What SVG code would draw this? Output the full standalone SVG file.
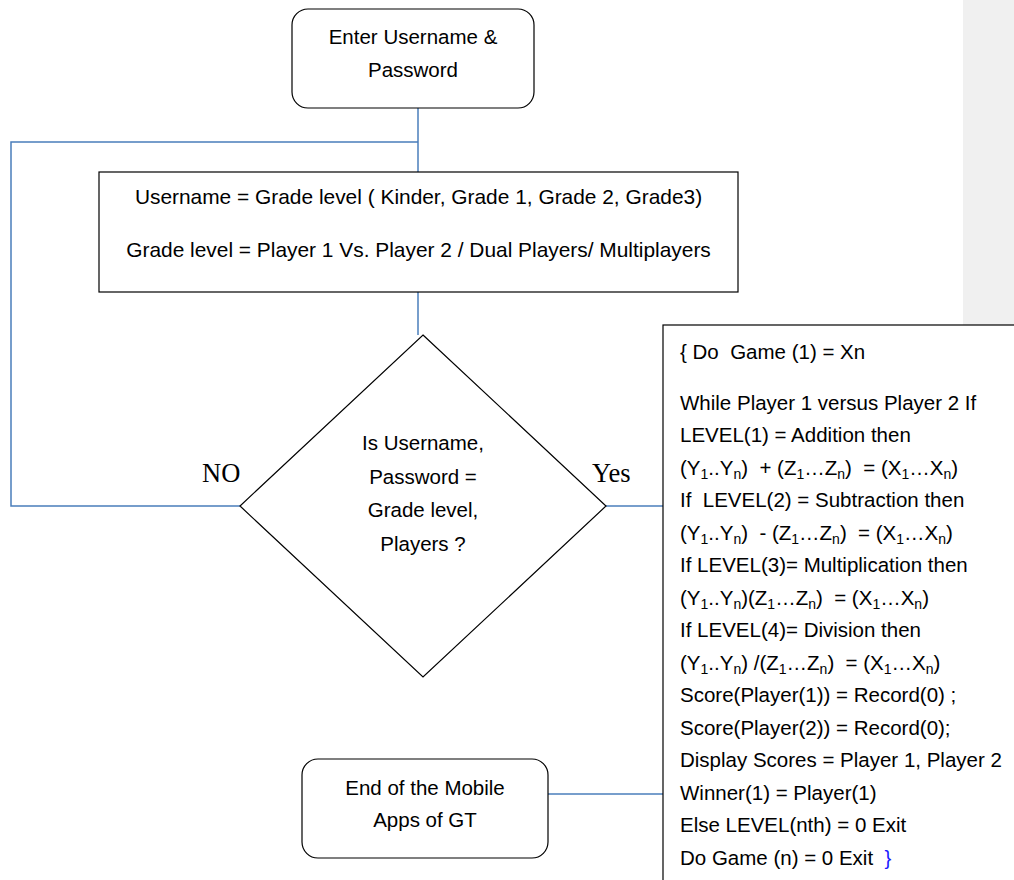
<svg xmlns="http://www.w3.org/2000/svg" width="1014" height="880" viewBox="0 0 1014 880">
<style>
  .t { font-family: "Liberation Sans", Arial, sans-serif; font-size: 20.5px; fill: #000; white-space: pre; }
  .w { font-size: 20.9px; }
  .c { text-anchor: middle; }
  .lbl { font-family: "Liberation Serif", "Times New Roman", serif; font-size: 26.5px; fill: #000; }
  .sub { font-size: 14px; }
  .shape { fill: #fff; stroke: #000; stroke-width: 1.2; }
  .conn { fill: none; stroke: #4a7ebb; stroke-width: 1.5; }
</style>
<rect x="0" y="0" width="1014" height="880" fill="#fff"/>
<rect x="963" y="0" width="51" height="325" fill="#f0f0f0"/>

<g id="connectors">
  <polyline class="conn" points="418,108 418,172"/>
  <polyline class="conn" points="418,142 11,142 11,506 240,506"/>
  <polyline class="conn" points="418,292 418,335"/>
  <polyline class="conn" points="606,506 663,506"/>
  <polyline class="conn" points="548,794 663,794"/>
</g>

<g id="start">
  <rect class="shape" x="292" y="9" width="242" height="99" rx="16" ry="16"/>
  <text class="t c" x="413" y="44">Enter Username &amp;</text>
  <text class="t c" x="413" y="77">Password</text>
</g>

<g id="grade">
  <rect class="shape" x="99" y="172" width="639" height="120"/>
  <text class="t w c" x="418.5" y="204">Username = Grade level ( Kinder, Grade 1, Grade 2, Grade3)</text>
  <text class="t w c" x="418.5" y="257">Grade level = Player 1 Vs. Player 2 / Dual Players/ Multiplayers</text>
</g>

<g id="decision">
  <polygon class="shape" points="423,335 606,506 423,677 240,506"/>
  <text class="t c" x="423" y="450">Is Username,</text>
  <text class="t c" x="423" y="484">Password =</text>
  <text class="t c" x="423" y="517">Grade level,</text>
  <text class="t c" x="423" y="551">Players ?</text>
</g>

<g id="labels">
  <text class="lbl" x="202" y="482">NO</text>
  <text class="lbl" x="592" y="482">Yes</text>
</g>

<g id="game">
  <rect class="shape" x="663" y="325" width="400" height="600" stroke="#333"/>
  <text class="t" x="680" y="358.5">{ Do  Game (1) = Xn</text>
  <text class="t" x="680" y="409.5">While Player 1 versus Player 2 If</text>
  <text class="t" x="680" y="442">LEVEL(1) = Addition then</text>
  <text class="t" x="680" y="474.5">(Y<tspan class="sub" dy="4">1</tspan><tspan dy="-4">..Y</tspan><tspan class="sub" dy="4">n</tspan><tspan dy="-4">)  + (Z</tspan><tspan class="sub" dy="4">1</tspan><tspan dy="-4">…Z</tspan><tspan class="sub" dy="4">n</tspan><tspan dy="-4">)  = (X</tspan><tspan class="sub" dy="4">1</tspan><tspan dy="-4">…X</tspan><tspan class="sub" dy="4">n</tspan><tspan dy="-4">)</tspan></text>
  <text class="t" x="680" y="507">If  LEVEL(2) = Subtraction then</text>
  <text class="t" x="680" y="539.5">(Y<tspan class="sub" dy="4">1</tspan><tspan dy="-4">..Y</tspan><tspan class="sub" dy="4">n</tspan><tspan dy="-4">)  - (Z</tspan><tspan class="sub" dy="4">1</tspan><tspan dy="-4">…Z</tspan><tspan class="sub" dy="4">n</tspan><tspan dy="-4">)  = (X</tspan><tspan class="sub" dy="4">1</tspan><tspan dy="-4">…X</tspan><tspan class="sub" dy="4">n</tspan><tspan dy="-4">)</tspan></text>
  <text class="t" x="680" y="572">If LEVEL(3)= Multiplication then</text>
  <text class="t" x="680" y="604.5">(Y<tspan class="sub" dy="4">1</tspan><tspan dy="-4">..Y</tspan><tspan class="sub" dy="4">n</tspan><tspan dy="-4">)(Z</tspan><tspan class="sub" dy="4">1</tspan><tspan dy="-4">…Z</tspan><tspan class="sub" dy="4">n</tspan><tspan dy="-4">)  = (X</tspan><tspan class="sub" dy="4">1</tspan><tspan dy="-4">…X</tspan><tspan class="sub" dy="4">n</tspan><tspan dy="-4">)</tspan></text>
  <text class="t" x="680" y="637">If LEVEL(4)= Division then</text>
  <text class="t" x="680" y="669.5">(Y<tspan class="sub" dy="4">1</tspan><tspan dy="-4">..Y</tspan><tspan class="sub" dy="4">n</tspan><tspan dy="-4">) /(Z</tspan><tspan class="sub" dy="4">1</tspan><tspan dy="-4">…Z</tspan><tspan class="sub" dy="4">n</tspan><tspan dy="-4">)  = (X</tspan><tspan class="sub" dy="4">1</tspan><tspan dy="-4">…X</tspan><tspan class="sub" dy="4">n</tspan><tspan dy="-4">)</tspan></text>
  <text class="t" x="680" y="702">Score(Player(1)) = Record(0) ;</text>
  <text class="t" x="680" y="734.5">Score(Player(2)) = Record(0);</text>
  <text class="t" x="680" y="767">Display Scores = Player 1, Player 2</text>
  <text class="t" x="680" y="799.5">Winner(1) = Player(1)</text>
  <text class="t" x="680" y="832">Else LEVEL(nth) = 0 Exit</text>
  <text class="t" x="680" y="864.5">Do Game (n) = 0 Exit  <tspan fill="#1a1aff">}</tspan></text>
</g>

<g id="end">
  <rect class="shape" x="302" y="759" width="246" height="99" rx="16" ry="16"/>
  <text class="t c" x="425" y="795">End of the Mobile</text>
  <text class="t c" x="425" y="827">Apps of GT</text>
</g>
</svg>
